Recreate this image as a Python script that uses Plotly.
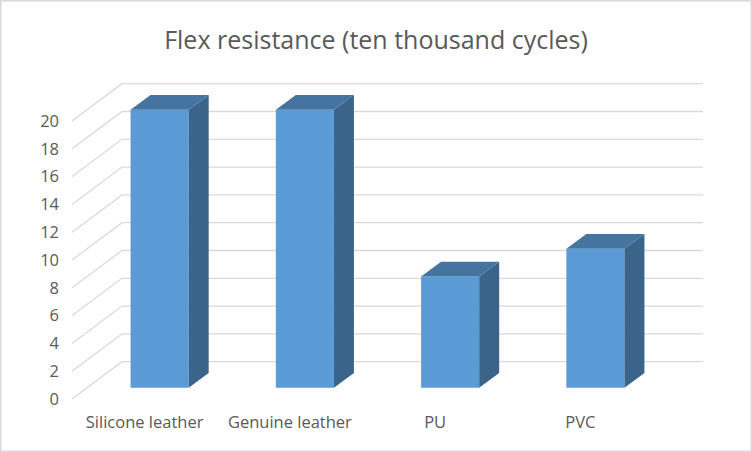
import plotly.graph_objects as go

# Chart data
categories = ['Silicone leather', 'Genuine leather', 'PU', 'PVC']
values = [20, 20, 8, 10]
y_ticks = list(range(0, 21, 2))

# Fake 3D geometry (pixels)
W, H = 752, 452
PX_X = 145.25      # pixels per category
PX_Y = 13.9        # pixels per value unit
X0_PX = 72         # front-left corner, x
Y0_PX = 399        # front-left corner, y at value 0
DX = 50 / PX_X     # depth offset in category units
DY = 37.3 / PX_Y   # depth offset in value units
D_FRONT, D_BACK = 0.3, 0.7
BAR_W = 0.4

ml, mr, mt, mb = 60, 20, 60, 42
x_range = [-(X0_PX - ml) / PX_X, (W - mr - X0_PX) / PX_X]
y_range = [-(H - mb - Y0_PX) / PX_Y, (Y0_PX - mt) / PX_Y]
pw, ph = W - ml - mr, H - mt - mb

fig = go.Figure()
n = len(categories)

# gridlines: left wall diagonals + back wall (below the bars)
shapes = []
for v in y_ticks:
    shapes.append(dict(type='path', xref='x', yref='y', layer='below',
                       path=f'M0,{v} L{DX},{v + DY} L{n + DX},{v + DY}',
                       line=dict(color='#d9d9d9', width=1.3)))

# outer chart border
shapes.append(dict(type='rect', xref='paper', yref='paper',
                   x0=(0.75 - ml) / pw, x1=(W - 0.75 - ml) / pw,
                   y0=-(H - 0.75 - mt - ph) / ph, y1=(H - 0.75 - mb) / ph,
                   line=dict(color='#d9d9d9', width=1.5)))

fig.add_trace(go.Bar(
    x=[i + 0.5 + D_FRONT * DX for i in range(n)],
    y=values,
    base=[D_FRONT * DY] * n,
    width=BAR_W,
    marker=dict(color='#5b9bd5', line=dict(width=0)),
    showlegend=False
))

# side and top faces
for i, v in enumerate(values):
    xl = i + 0.5 - BAR_W / 2 + D_FRONT * DX
    xr = xl + BAR_W
    yb = D_FRONT * DY
    yt = v + D_FRONT * DY
    ddx = (D_BACK - D_FRONT) * DX
    ddy = (D_BACK - D_FRONT) * DY
    fig.add_trace(go.Scatter(
        x=[xr, xr + ddx, xr + ddx, xr, xr],
        y=[yb, yb + ddy, yt + ddy, yt, yb],
        fill='toself', fillcolor='#3a6489', mode='lines', line=dict(width=0),
        hoverinfo='skip', showlegend=False))
    fig.add_trace(go.Scatter(
        x=[xl, xl + ddx, xr + ddx, xr, xl],
        y=[yt, yt + ddy, yt + ddy, yt, yt],
        fill='toself', fillcolor='#4574a1', mode='lines', line=dict(width=0),
        hoverinfo='skip', showlegend=False))

fig.update_layout(
    width=W, height=H,
    margin=dict(l=ml, r=mr, t=mt, b=mb, pad=0),
    plot_bgcolor='white', paper_bgcolor='white',
    font=dict(family='Open Sans', color='#595959'),
    title=dict(text='Flex resistance (ten thousand cycles)', x=0.5, xanchor='center',
               y=1 - 40 / H, yanchor='middle', font=dict(size=25, color='#595959')),
    showlegend=False,
    shapes=shapes
)
fig.update_xaxes(range=x_range, showgrid=False, zeroline=False, showline=False,
                 tickvals=[i + 0.5 for i in range(n)], ticktext=categories,
                 ticks='', tickfont=dict(size=16.5, color='#595959'))
fig.update_yaxes(range=y_range, showgrid=False, zeroline=False, showline=False,
                 tickvals=y_ticks, ticks='', tickfont=dict(size=16.5, color='#595959'))

fig.write_html('out.html', config={'displayModeBar': False},
               post_script="document.body.style.margin='0';")
